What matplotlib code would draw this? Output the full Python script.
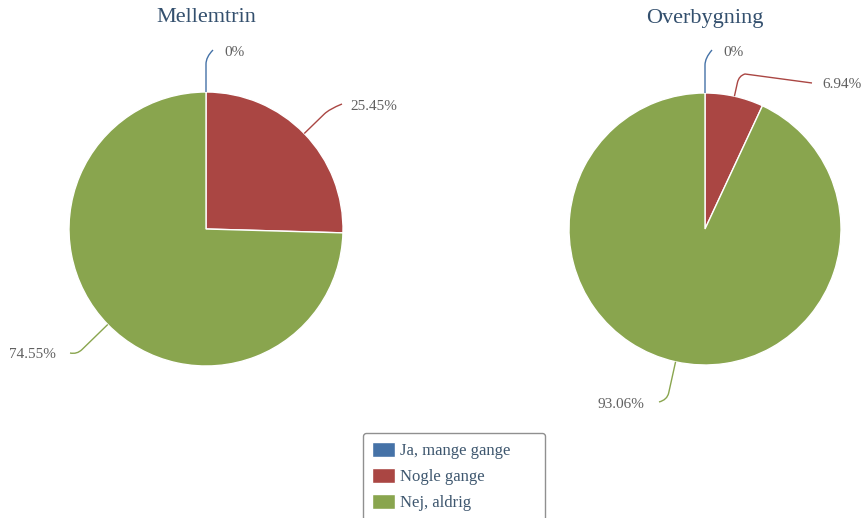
import matplotlib

matplotlib.use("Agg")
import matplotlib.pyplot as plt
import numpy as np
from matplotlib.path import Path
from matplotlib.patches import PathPatch

W, H = 864, 518

categories = ["Ja, mange gange", "Nogle gange", "Nej, aldrig"]
titles = ["Mellemtrin", "Overbygning"]
mellemtrin = [0, 25.45, 74.55]
overbygning = [0, 6.94, 93.06]

COLORS = ["#4572a7", "#aa4643", "#89a54e"]
TITLE_COLOR = "#34506e"
LABEL_COLOR = "#606060"

plt.rcParams["font.family"] = ["Liberation Serif", "DejaVu Serif"]

# pixel layout (y measured from the top of the picture)
CENTERS = [(206, 229), (705, 229)]
RADII = [137, 136]
# per wedge: knee length, curve end, optional tail end, label pos, alignment
LAYOUT = [
    [
        (28, (213, 50), None, (224, 53), "left"),
        (28, (342, 104), None, (350, 107), "left"),
        (36, (70, 353), None, (56, 355), "right"),
    ],
    [
        (28, (712, 50), None, (723, 53), "left"),
        (14, (745, 74), (812, 83), (822, 84), "left"),
        (32, (659, 402), None, (644, 404), "right"),
    ],
]


def up(y):
    return H - y


def draw_connector(ax, wedge, layout, color):
    length, bend, tail, _, _ = layout
    ang = np.deg2rad((wedge.theta1 + wedge.theta2) / 2)
    radial = np.array([np.cos(ang), np.sin(ang)])
    cx, cy = wedge.center
    edge = np.array([cx, cy]) + radial * wedge.r
    knee = edge + radial * length
    ctrl = knee + radial * 7
    verts = [edge, knee, ctrl, (bend[0], up(bend[1]))]
    codes = [Path.MOVETO, Path.LINETO, Path.CURVE3, Path.CURVE3]
    if tail is not None:
        verts.append((tail[0], up(tail[1])))
        codes.append(Path.LINETO)
    ax.add_patch(PathPatch(Path(verts, codes), fill=False, edgecolor=color, lw=1))


fig = plt.figure(figsize=(W / 100, H / 100), dpi=100)
ax = fig.add_axes([0, 0, 1, 1])

handles = None
for i, vals in enumerate([mellemtrin, overbygning]):
    cx, cy = CENTERS[i]
    wedges, _ = ax.pie(
        vals,
        center=(cx, up(cy)),
        radius=RADII[i],
        startangle=90,
        counterclock=False,
        colors=COLORS,
        wedgeprops=dict(edgecolor="white", linewidth=1),
    )
    if handles is None:
        handles = wedges
    ax.text(cx, up(18), titles[i], ha="center", va="center", fontsize=16, color=TITLE_COLOR)
    for w, v, lay, c in zip(wedges, vals, LAYOUT[i], COLORS):
        draw_connector(ax, w, lay, c)
        lx, ly = lay[3]
        ax.text(lx, up(ly), f"{v:g}%", ha=lay[4], va="center", fontsize=11, color=LABEL_COLOR)

ax.set_xlim(0, W)
ax.set_ylim(0, H)
ax.set_aspect("equal")
ax.axis("off")

leg = ax.legend(
    handles,
    categories,
    loc="upper left",
    bbox_to_anchor=(363 / W, 0, (545 - 363) / W, up(433) / H),
    mode="expand",
    borderaxespad=0,
    fontsize=12,
    labelcolor="#3e576f",
    handlelength=1.38,
    handleheight=0.96,
    handletextpad=0.3,
    labelspacing=0.55,
    borderpad=0.55,
    frameon=True,
    fancybox=True,
    framealpha=1,
)
leg.get_frame().set_edgecolor("#909090")
leg.get_frame().set_linewidth(1)
leg.set_clip_on(False)

fig.savefig("out.png", dpi=100)
